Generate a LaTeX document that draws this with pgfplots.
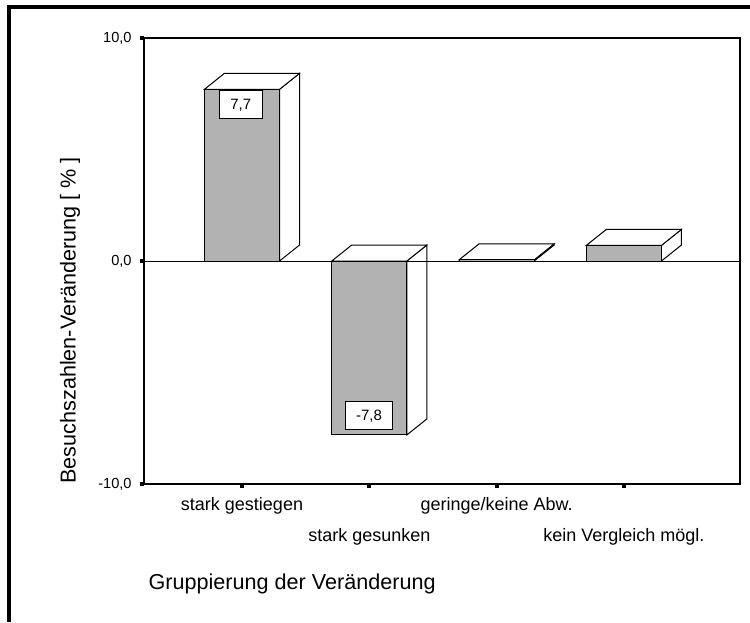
\documentclass[border=0pt]{standalone}
\usepackage{fontspec}
\setmainfont{Liberation Sans}
\usepackage{pgfplots}
\pgfplotsset{compat=1.18}
\begin{document}
\begin{tikzpicture}
\path[use as bounding box] (0,0) rectangle (375pt,311pt);
\draw[line width=2pt] (4.25pt,0) -- (4.25pt,307.5pt) -- (375pt,307.5pt);
\begin{axis}[
  at={(72pt,69pt)}, anchor=south west,
  scale only axis, width=298pt, height=223pt,
  clip=false,
  xmin=-0.77, xmax=3.912, ymin=-10, ymax=10,
  xtick={0,2}, xticklabels={stark gestiegen, geringe/keine Abw.},
  extra x ticks={1,3}, extra x tick labels={stark gesunken, kein Vergleich mögl.},
  extra x tick style={xticklabel style={yshift=-15.5pt}},
  ytick={-10,0,10}, yticklabels={{-10,0},{0,0},{10,0}},
  xtick pos=bottom, ytick pos=left,
  tick align=outside, major tick length=2pt,
  tick style={line width=2pt, black},
  axis line style={line width=0.6pt, black},
  xticklabel style={font=\fontsize{9}{10}\selectfont, inner sep=0pt, anchor=north, yshift=-4.5pt},
  yticklabel style={font=\fontsize{7.3}{8}\selectfont, inner sep=0pt, anchor=east, xshift=-4pt},
  xlabel={Gruppierung der Veränderung},
  ylabel={Besuchszahlen-Veränderung [ \% ]},
  every axis x label/.style={at={(axis description cs:0.007,-0.224)}, anchor=west, inner sep=0pt, font=\fontsize{10.8}{12}\selectfont},
  every axis y label/.style={at={(axis description cs:-0.124,0)}, rotate=90, anchor=west, inner sep=0pt, font=\fontsize{10.8}{12}\selectfont},
]
% depth faces (side and top) of the 3D bars
\addplot[forget plot, fill=white, draw=black, line width=0.5pt] coordinates {(0.295,0) (0.295,7.7) (0.452,8.417) (0.452,0.717)} -- cycle;
\addplot[forget plot, fill=white, draw=black, line width=0.5pt] coordinates {(-0.295,7.7) (0.295,7.7) (0.452,8.417) (-0.138,8.417)} -- cycle;
\addplot[forget plot, fill=white, draw=black, line width=0.5pt] coordinates {(1.295,-7.8) (1.295,0) (1.452,0.717) (1.452,-7.083)} -- cycle;
\addplot[forget plot, fill=white, draw=black, line width=0.5pt] coordinates {(0.705,0) (1.295,0) (1.452,0.717) (0.862,0.717)} -- cycle;
\addplot[forget plot, fill=white, draw=black, line width=0.5pt] coordinates {(2.295,0) (2.295,0.05) (2.452,0.767) (2.452,0.717)} -- cycle;
\addplot[forget plot, fill=white, draw=black, line width=0.5pt] coordinates {(1.705,0.05) (2.295,0.05) (2.452,0.767) (1.862,0.767)} -- cycle;
\addplot[forget plot, fill=white, draw=black, line width=0.5pt] coordinates {(3.295,0) (3.295,0.7) (3.452,1.417) (3.452,0.717)} -- cycle;
\addplot[forget plot, fill=white, draw=black, line width=0.5pt] coordinates {(2.705,0.7) (3.295,0.7) (3.452,1.417) (2.862,1.417)} -- cycle;
% front faces
\addplot[ybar, bar width=0.59, fill=black!30, draw=black, line width=0.5pt] table {
x y
0 7.7
1 -7.8
2 0.05
3 0.7
};
% zero line
\addplot[black, line width=0.5pt] coordinates {(-0.77,0) (3.912,0)};
% value labels
\addplot[only marks, mark=none, nodes near coords, point meta=explicit symbolic,
  nodes near coords style={anchor=center, draw=black, fill=white, line width=0.5pt,
    inner xsep=5.5pt, inner ysep=4.5pt, text height=5.4pt, text depth=0pt,
    font=\fontsize{7.5}{8}\selectfont}]
  table[meta=label] {
x y label
-0.01 7.02 {7,7}
0.998 -6.93 {-7,8}
};
\end{axis}
\end{tikzpicture}
\end{document}
